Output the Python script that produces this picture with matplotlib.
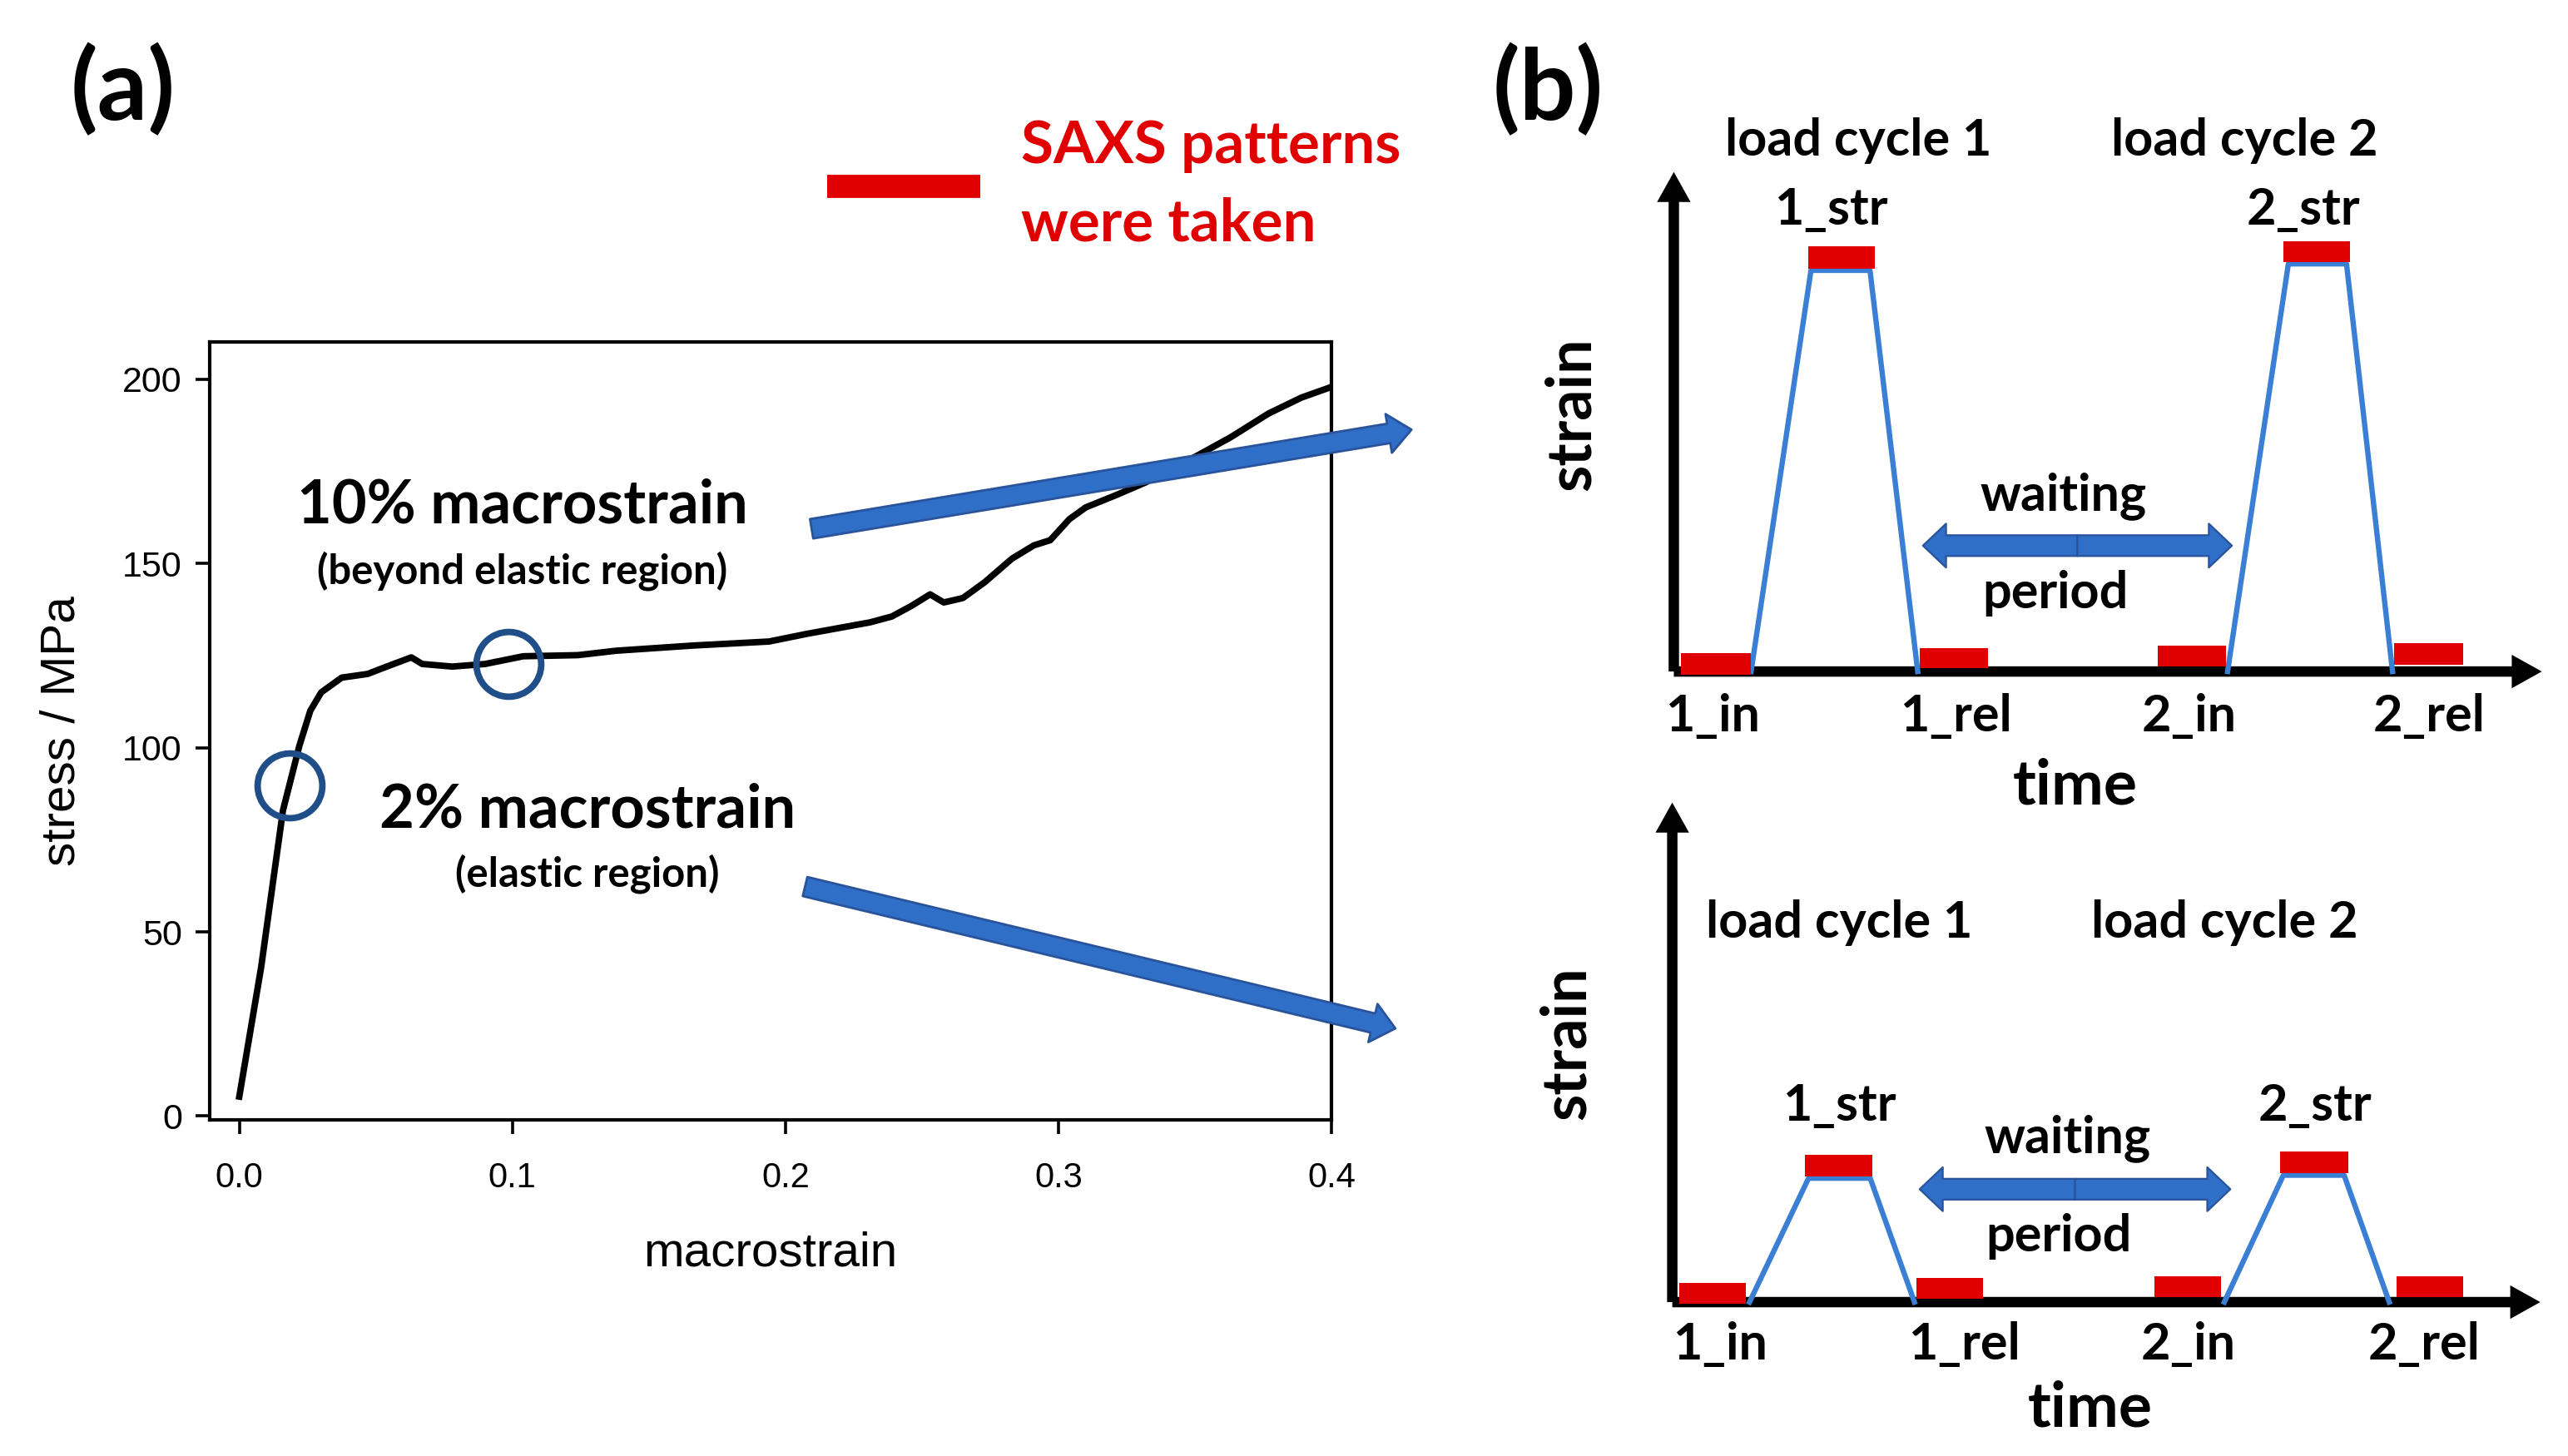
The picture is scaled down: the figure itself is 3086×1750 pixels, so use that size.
import matplotlib
matplotlib.use("Agg")
import matplotlib.pyplot as plt
from matplotlib.patches import FancyArrowPatch, Rectangle
from matplotlib.lines import Line2D

# ---- panel (a): stress-strain curve ----
macrostrain = [0.0, 0.008, 0.016, 0.022, 0.026, 0.030, 0.0375, 0.047, 0.054, 0.063,
               0.067, 0.078, 0.090, 0.104, 0.124, 0.138, 0.166, 0.194, 0.208, 0.231,
               0.239, 0.246, 0.253, 0.258, 0.265, 0.273, 0.283, 0.291, 0.297, 0.304,
               0.310, 0.321, 0.332, 0.349, 0.363, 0.377, 0.389, 0.400]
stress = [5.3, 40.4, 83.0, 100.5, 110.0, 115.0, 119.0, 120.0, 122.0, 124.5,
          122.7, 122.0, 122.7, 124.8, 125.1, 126.3, 127.7, 128.8, 130.9, 134.0,
          135.6, 138.4, 141.6, 139.4, 140.6, 144.9, 151.3, 154.9, 156.3, 162.0,
          165.2, 168.5, 172.0, 178.5, 184.2, 190.7, 195.0, 197.9]
circle_x = [0.0183, 0.0987]
circle_y = [89.8, 122.7]
xticks = [0.0, 0.1, 0.2, 0.3, 0.4]
yticks = [0, 50, 100, 150, 200]

# ---- panel (b): schematic load cycles (time, strain in arbitrary units) ----
top_cycle1_t = [0.89, 1.58, 2.26, 2.81]
top_cycle1_s = [0.0, 8.03, 8.03, 0.0]
top_cycle2_t = [6.38, 7.08, 7.75, 8.28]
top_cycle2_s = [0.0, 8.16, 8.16, 0.0]
# saxs exposures: (t_start, t_end, s_low, s_high)
top_saxs = [(0.08, 0.89, -0.07, 0.36), (2.83, 3.62, 0.07, 0.46),
            (5.58, 6.36, 0.10, 0.52), (8.30, 9.09, 0.13, 0.56),
            (1.55, 2.32, 8.07, 8.52), (7.02, 7.79, 8.20, 8.62)]

bot_cycle1_t = [0.89, 1.57, 2.28, 2.79]
bot_cycle1_s = [0.0, 2.48, 2.48, 0.0]
bot_cycle2_t = [6.36, 7.04, 7.74, 8.26]
bot_cycle2_s = [0.0, 2.54, 2.54, 0.0]
bot_saxs = [(0.08, 0.85, -0.03, 0.38), (2.81, 3.58, 0.07, 0.49),
            (5.55, 6.32, 0.10, 0.52), (8.34, 9.11, 0.10, 0.52),
            (1.53, 2.30, 2.52, 2.95), (7.00, 7.79, 2.59, 3.02)]

point_labels = ['1_in', '1_rel', '2_in', '2_rel']

BLUE_ARROW = '#2f6fc7'
BLUE_EDGE = '#29539b'
RED = '#e00000'
LINE_BLUE = '#3b7fd4'
CAL = 'Lato'
ARIAL = 'Liberation Sans'

fig = plt.figure(figsize=(15.43, 8.75), dpi=200)

ax = fig.add_axes([0.0817, 0.2309, 0.4368, 0.534])
ax.plot(macrostrain, stress, color='black', lw=2.8, solid_joinstyle='round')
ax.plot(circle_x, circle_y, 'o', ms=28, mfc='none', mec='#1f4e89', mew=2.8)
ax.set_xlim(-0.0108, 0.4)
ax.set_ylim(-1, 210)
ax.set_xticks(xticks)
ax.set_xticklabels(['%.1f' % v for v in xticks], fontfamily=ARIAL, fontsize=15)
ax.set_yticks(yticks)
ax.set_yticklabels([str(v) for v in yticks], fontfamily=ARIAL, fontsize=15.5)
ax.tick_params(axis='x', direction='out', length=6, width=1.3, pad=12)
ax.tick_params(axis='y', direction='out', length=6, width=1.3, pad=6)
for sp in ax.spines.values():
    sp.set_linewidth(1.5)
ax.set_xlabel('macrostrain', fontfamily=ARIAL, fontsize=21)
ax.set_ylabel('stress / MPa', fontfamily=ARIAL, fontsize=21)
ax.xaxis.set_label_coords(0.5, -0.143)
ax.yaxis.set_label_coords(-0.112, 0.5)

ax.text(0.1036, 165.6, '10% macrostrain', ha='center', va='center',
        fontfamily=CAL, fontweight='bold', fontsize=26)
ax.text(0.1036, 147.9, '(beyond elastic region)', ha='center', va='center',
        fontfamily=CAL, fontweight='bold', fontsize=17.7)
ax.text(0.1275, 83.0, '2% macrostrain', ha='center', va='center',
        fontfamily=CAL, fontweight='bold', fontsize=26)
ax.text(0.1275, 65.8, '(elastic region)', ha='center', va='center',
        fontfamily=CAL, fontweight='bold', fontsize=17.7)

big_arrow = 'simple,tail_width=8.5,head_width=17,head_length=10'
for tail, tip in [((0.2096, 159.4), (0.4293, 186.3)), ((0.2072, 62.3), (0.4234, 23.8))]:
    arr = FancyArrowPatch(tail, tip, arrowstyle=big_arrow, shrinkA=0, shrinkB=0,
                          fc=BLUE_ARROW, ec=BLUE_EDGE, lw=1.0, clip_on=False, zorder=5)
    ax.add_patch(arr)

fig.text(0.0478, 0.938, '(a)', ha='center', va='center', fontfamily=CAL,
         fontweight='bold', fontsize=43)
fig.text(0.6027, 0.938, '(b)', ha='center', va='center', fontfamily=CAL,
         fontweight='bold', fontsize=43)

leg = fig.legend(handles=[Line2D([], [], color=RED, lw=10, solid_capstyle='butt')],
                 labels=['SAXS patterns\nwere taken'], loc='center left',
                 bbox_to_anchor=(0.322, 0.873), frameon=False, borderpad=0,
                 borderaxespad=0, handlelength=2.6, handletextpad=0.7,
                 prop={'family': CAL, 'weight': 'bold', 'size': 25.5})
for t in leg.get_texts():
    t.set_color(RED)
    t.set_linespacing(1.55)


def schematic(rect, c1t, c1s, c2t, c2s, saxs, txt):
    a = fig.add_axes(rect)
    a.set_xlim(0, 10)
    a.set_ylim(0, 10)
    a.axis('off')
    axis_style = 'simple,tail_width=4.5,head_width=14.5,head_length=13'
    for end in [(10, 0), (0, 10)]:
        a.add_patch(FancyArrowPatch((0, 0), end, arrowstyle=axis_style, shrinkA=0,
                                    shrinkB=0, fc='black', ec='black', lw=0,
                                    clip_on=False, zorder=2))
    a.plot(c1t, c1s, color=LINE_BLUE, lw=2.3, clip_on=False, zorder=3)
    a.plot(c2t, c2s, color=LINE_BLUE, lw=2.3, clip_on=False, zorder=3)
    for t0, t1, s0, s1 in saxs:
        a.add_patch(Rectangle((t0, s0), t1 - t0, s1 - s0, fc=RED, ec='none',
                              clip_on=False, zorder=4))
    dbl = 'simple,tail_width=9,head_width=19,head_length=10'
    t0, t1, sy = txt['wait_arrow']
    mid = (t0 + t1) / 2
    for end in [t0, t1]:
        a.add_patch(FancyArrowPatch((mid, sy), (end, sy), arrowstyle=dbl, shrinkA=0,
                                    shrinkB=0, fc=BLUE_ARROW, ec=BLUE_EDGE, lw=0.8,
                                    clip_on=False, zorder=3))
    kw = dict(ha='center', va='center', fontfamily=CAL, fontweight='bold')
    for label, (x, y) in txt['labels'].items():
        a.text(x, y, label, fontsize=22, **kw)
    for label, x in zip(point_labels, txt['points_t']):
        a.text(x, txt['points_s'], label, fontsize=22, **kw)
    a.text(txt['time'][0], txt['time'][1], 'time', fontsize=27, **kw)
    a.text(txt['strain'][0], txt['strain'][1], 'strain', fontsize=26.5,
           rotation=90, **kw)
    return a


top_txt = {
    'labels': {'load cycle 1': (2.13, 10.62), 'load cycle 2': (6.58, 10.62),
               '1_str': (1.81, 9.25), '2_str': (7.25, 9.25),
               'waiting': (4.49, 3.51), 'period': (4.40, 1.57)},
    'wait_arrow': (2.87, 6.43, 2.52),
    'points_t': [0.45, 3.25, 5.94, 8.70], 'points_s': -0.90,
    'time': (4.62, -2.30), 'strain': (-1.17, 5.15),
}
bot_txt = {
    'labels': {'load cycle 1': (1.92, 7.59), 'load cycle 2': (6.36, 7.59),
               '1_str': (1.92, 3.93), '2_str': (7.40, 3.93),
               'waiting': (4.55, 3.28), 'period': (4.45, 1.31)},
    'wait_arrow': (2.85, 6.43, 2.26),
    'points_t': [0.55, 3.36, 5.94, 8.66], 'points_s': -0.85,
    'time': (4.81, -2.13), 'strain': (-1.21, 5.18),
}

schematic([0.6518, 0.5388, 0.338, 0.3431], top_cycle1_t, top_cycle1_s,
          top_cycle2_t, top_cycle2_s, top_saxs, top_txt)
schematic([0.6512, 0.1057, 0.338, 0.3431], bot_cycle1_t, bot_cycle1_s,
          bot_cycle2_t, bot_cycle2_s, bot_saxs, bot_txt)

fig.savefig('out.png', dpi=200, facecolor='white')
